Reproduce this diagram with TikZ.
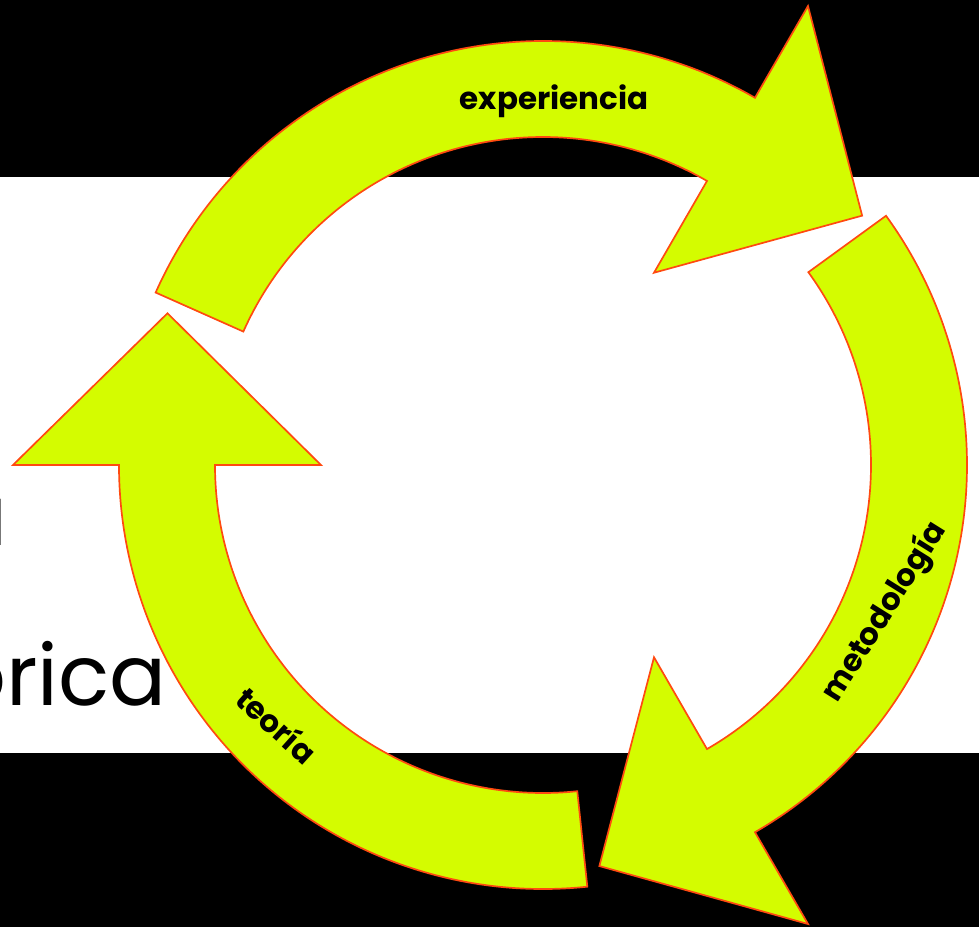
\documentclass[tikz,border=0pt]{standalone}
\usepackage{fontspec}
\setmainfont{Poppins}
\definecolor{cyclefill}{HTML}{D4FC00}
\definecolor{cycleedge}{HTML}{FF4A10}

\begin{document}
\begin{tikzpicture}[x=0.025cm,y=0.025cm,
    cyclearrow/.style={fill=cyclefill,draw=cycleedge,line width=1.2pt,line join=miter},
    cyclelabel/.style={font=\fontsize{22}{26}\selectfont\bfseries,text=black,inner sep=0pt},
    slidetext/.style={font=\fontsize{60}{70}\selectfont,text=black,inner sep=0pt,anchor=base east}]
    \useasboundingbox (-543,-462) rectangle (436,465);
    \clip (-543,-462) rectangle (436,465);
    % slide background
    \fill[black] (-543,288) rectangle (436,465);
    \fill[black] (-543,-462) rectangle (436,-288);
    \node[slidetext] (lineone) at (-535,-80) {a};
    \node[slidetext] (linetwo) at (-376,-240) {orica};
    % the three arrows of the cycle
    \foreach \b in {60,-60,180}{
        \draw[cyclearrow] ({\b+96}:424) arc[start angle=\b+96,end angle=\b,radius=424]
            -- (\b:530) -- ({\b-22}:405) -- (\b:222) -- (\b:328)
            arc[start angle=\b,end angle=\b+96,radius=328] -- cycle;
    }
    \node[cyclelabel,anchor=base] (experiencia) at (11,355) {experiencia};
    \node[cyclelabel,rotate=58] (metodologia) at (342,-147) {metodología};
    \node[cyclelabel,rotate=-42] (teoria) at (-266,-260) {teoría};
\end{tikzpicture}
\end{document}
